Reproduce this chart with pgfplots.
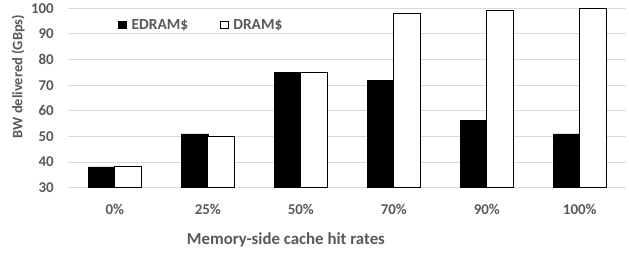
\documentclass[border=0pt]{standalone}
\usepackage{fontspec}
\setmainfont{Carlito}
\usepackage{pgfplots}
\pgfplotsset{compat=1.18}
\definecolor{txt}{HTML}{595959}
\definecolor{grd}{HTML}{D9D9D9}
\begin{document}
\begin{tikzpicture}
\path[use as bounding box] (0bp,0bp) rectangle (629bp,-254bp);
\begin{axis}[
 at={(68.3bp,-8.3bp)}, anchor=north west,
 scale only axis, width=558bp, height=179.4bp,
 ymin=30, ymax=100, ytick={30,40,...,100},
 xmin=-0.5, xmax=5.5, xtick={0,...,5},
 xticklabels={0\%,25\%,50\%,70\%,90\%,100\%},
 ybar=0pt, bar width=26.5bp,
 ymajorgrids, grid style={grd, line width=0.9pt},
 axis line style={draw=none},
 major tick length=0pt,
 tick label style={font=\fontsize{15}{17}\selectfont\bfseries, text=txt},
 /pgf/number format/assume math mode=true,
 yticklabel style={anchor=east, xshift=-11bp},
 xticklabel style={anchor=center, yshift=-21.5bp},
 xlabel={Memory-side cache hit rates},
 xlabel style={font=\fontsize{16.9}{19}\selectfont\bfseries, text=txt, at={(axis description cs:0.39,-0.2915)}, anchor=center},
 ylabel={BW delivered (GBps)},
 ylabel style={font=\fontsize{14.5}{16}\selectfont\bfseries, text=txt, at={(axis description cs:-0.090,0.62)}, anchor=center, rotate=0},
 legend columns=2,
 legend style={draw=none, fill=none, at={(axis description cs:0.0896,0.907)}, anchor=west,
   font=\fontsize{15.5}{17}\selectfont\bfseries, text=txt, inner sep=0pt,
   /tikz/every odd column/.append style={column sep=3bp},
   /tikz/every even column/.append style={column sep=30bp}},
 legend image code/.code={\draw[#1, line width=0.6pt] (0bp,-3.6bp) rectangle (7.5bp,3.6bp);},
]
\addplot[fill=black, draw=black, line width=0.6pt] coordinates {(0,38.1) (1,51) (2,75) (3,72) (4,56.4) (5,51)};
\addplot[fill=white, draw=black, line width=0.8pt] coordinates {(0,38.4) (1,50.2) (2,75) (3,98.1) (4,99) (5,100)};
\legend{EDRAM\$, DRAM\$}
\end{axis}
\end{tikzpicture}
\end{document}
